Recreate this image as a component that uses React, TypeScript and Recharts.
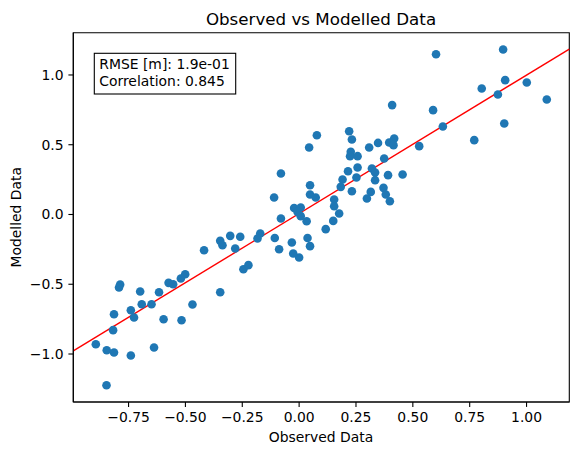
import React from 'react';
import { ScatterChart, Scatter, XAxis, YAxis, ReferenceLine, ReferenceArea } from 'recharts';

const observed = [
  0.602, 0.897, 0.803, 0.906, 1.001, 0.874, 1.089, 0.589, 0.632, 0.902,
  0.770, 0.528, 0.455, 0.409, 0.078, 0.044, 0.220, 0.232, 0.308, 0.347,
  0.396, 0.418, 0.415, 0.227, 0.224, 0.257, 0.374, 0.257, 0.215, 0.320,
  0.334, 0.391, 0.252, 0.334, 0.191, 0.183, 0.232, 0.048, 0.048, 0.073,
  0.154, 0.154, 0.176, 0.371, 0.381, 0.399, 0.315, 0.298, 0.150, 0.117,
  0.037, -0.022, 0.007, -0.007, 0.007, 0.033, 0.048, 0.000, -0.080, -0.107,
  -0.088, -0.032, -0.026, -0.171, -0.183, -0.259, -0.281, -0.303, -0.347, -0.337,
  -0.418, -0.245, -0.223, -0.347, -0.501, -0.520, -0.574, -0.554, -0.616, -0.649,
  -0.469, -0.596, -0.517, -0.638, -0.692, -0.699, -0.740, -0.726, -0.787, -0.792,
  -0.814, -0.818, -0.894, -0.846, -0.814, -0.740, -0.847, -0.080, -0.110,
];
const modelled = [
  1.149, 1.183, 0.903, 0.963, 0.946, 0.860, 0.824, 0.748, 0.631, 0.652,
  0.533, 0.490, 0.287, 0.784, 0.568, 0.480, 0.597, 0.538, 0.480, 0.513,
  0.516, 0.545, 0.497, 0.449, 0.418, 0.418, 0.401, 0.337, 0.310, 0.330,
  0.301, 0.282, 0.265, 0.246, 0.251, 0.198, 0.167, 0.210, 0.143, 0.122,
  0.107, 0.059, 0.007, 0.191, 0.143, 0.095, 0.162, 0.115, -0.046, -0.105,
  -0.168, 0.047, 0.050, 0.019, -0.012, -0.048, -0.227, -0.308, -0.029, -0.168,
  -0.249, -0.201, -0.280, -0.136, -0.172, -0.160, -0.244, -0.153, -0.189, -0.220,
  -0.256, -0.392, -0.363, -0.557, -0.428, -0.459, -0.490, -0.500, -0.557, -0.643,
  -0.645, -0.751, -0.758, -0.953, -0.643, -0.552, -0.686, -0.738, -0.502, -0.523,
  -0.715, -0.829, -0.930, -0.973, -0.989, -1.011, -1.224, 0.294, 0.122,
];

const xTicks = [-0.75, -0.5, -0.25, 0, 0.25, 0.5, 0.75, 1.0];
const yTicks = [-1.0, -0.5, 0, 0.5, 1.0];
const xDomain = [-0.993, 1.188];
const yDomain = [-1.344, 1.303];

// fitted line
const slope = 0.992;
const intercept = 0.007;

const statLines = ['RMSE [m]: 1.9e-01', 'Correlation: 0.845'];

const points = observed.map((x, i) => ({ x, y: modelled[i] }));
const fitSegment = xDomain.map(x => ({ x, y: slope * x + intercept }));

const FONT = 'DejaVu Sans, sans-serif';
const fmt = (v: number, d: number) => v.toFixed(d).replace('-', '\u2212');

const XTick = (props: any) => (
  <text x={props.x} y={props.y} dy="0.71em" textAnchor="middle" fontSize={13.9} fontFamily={FONT} fill="#000">
    {fmt(props.payload.value, 2)}
  </text>
);

const YTick = (props: any) => (
  <text x={props.x} y={props.y} dy="0.36em" textAnchor="end" fontSize={13.9} fontFamily={FONT} fill="#000">
    {fmt(props.payload.value, 1)}
  </text>
);

const Dot = (props: any) => <circle cx={props.cx} cy={props.cy} r={4.3} fill="#1f77b4" />;

export default function App() {
  return (
    <div style={{ position: 'absolute', left: 0, top: 0, width: 578, height: 455, background: '#fff' }}>
      <ScatterChart width={578} height={455} margin={{ top: 32.7, right: 8.7, bottom: 13, left: 13.3 }}>
        <XAxis
          type="number"
          dataKey="x"
          domain={xDomain}
          ticks={xTicks}
          allowDataOverflow
          height={40}
          tickSize={4.9}
          tickMargin={5}
          tick={<XTick />}
          axisLine={{ stroke: '#000', strokeWidth: 1.1 }}
          tickLine={{ stroke: '#000', strokeWidth: 1.1 }}
        />
        <YAxis
          type="number"
          dataKey="y"
          domain={yDomain}
          ticks={yTicks}
          allowDataOverflow
          width={60}
          tickSize={4.9}
          tickMargin={4.9}
          tick={<YTick />}
          axisLine={{ stroke: '#000', strokeWidth: 1.1 }}
          tickLine={{ stroke: '#000', strokeWidth: 1.1 }}
        />
        <ReferenceArea
          x1={xDomain[0]}
          x2={xDomain[1]}
          y1={yDomain[0]}
          y2={yDomain[1]}
          fill="none"
          stroke="#000"
          strokeWidth={1.1}
          ifOverflow="visible"
        />
        <Scatter data={points} shape={<Dot />} isAnimationActive={false} />
        <ReferenceLine segment={fitSegment} stroke="#ff0000" strokeWidth={1.4} ifOverflow="visible" />
      </ScatterChart>
      <svg width={578} height={455} style={{ position: 'absolute', left: 0, top: 0, pointerEvents: 'none' }}>
        <text x={321} y={25} textAnchor="middle" fontSize={16.7} fontFamily={FONT} fill="#000">
          Observed vs Modelled Data
        </text>
        <text x={321} y={442} textAnchor="middle" fontSize={13.9} fontFamily={FONT} fill="#000">
          Observed Data
        </text>
        <text
          x={21.5}
          y={217.3}
          textAnchor="middle"
          transform="rotate(-90 21.5 217.3)"
          fontSize={13.9}
          fontFamily={FONT}
          fill="#000"
        >
          Modelled Data
        </text>
        <rect x={94.3} y={53.3} width={141.4} height={40.7} fill="#fff" stroke="#000" strokeWidth={1.1} />
        {statLines.map((line, i) => (
          <text key={line} x={99.3} y={69.3 + i * 16.4} fontSize={13.9} fontFamily={FONT} fill="#000">
            {line}
          </text>
        ))}
      </svg>
    </div>
  );
}
